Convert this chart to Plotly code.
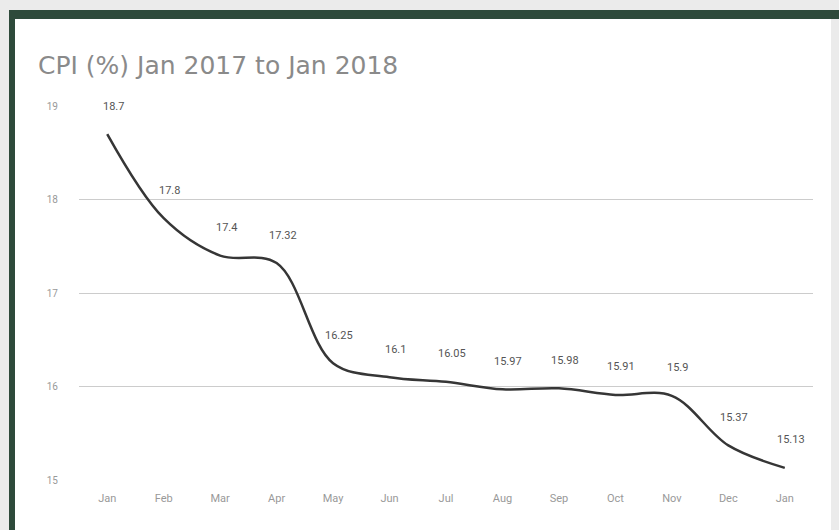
import plotly.graph_objects as go

months = ["Jan", "Feb", "Mar", "Apr", "May", "Jun", "Jul", "Aug", "Sep", "Oct", "Nov", "Dec", "Jan"]
cpi = [18.7, 17.8, 17.4, 17.32, 16.25, 16.1, 16.05, 15.97, 15.98, 15.91, 15.9, 15.37, 15.13]
cpi_labels = ["18.7", "17.8", "17.4", "17.32", "16.25", "16.1", "16.05", "15.97", "15.98", "15.91", "15.9", "15.37", "15.13"]
y_ticks = [15, 16, 17, 18, 19]

W, H = 839, 530
ML, MR, MT, MB = 79, 26, 106, 50
PW, PH = W - ML - MR, H - MT - MB
FONT = "Roboto, Arial, sans-serif"

def px(x):
    return (x - ML) / PW

def py(y):
    return (H - MB - y) / PH

xs = list(range(len(months)))

fig = go.Figure()
fig.add_trace(go.Scatter(
    x=xs, y=cpi, mode="lines",
    line=dict(color="#363636", width=2.5, shape="spline", smoothing=1.0),
    hoverinfo="skip", showlegend=False,
))

for x, y, t in zip(xs, cpi, cpi_labels):
    fig.add_annotation(x=x, y=y, text=t, showarrow=False,
                       xshift=6, yshift=28,
                       font=dict(family=FONT, size=11, color="#555555"))

shapes = [
    dict(type="rect", xref="paper", yref="paper", x0=px(9), x1=px(845), y0=py(19), y1=py(10),
         fillcolor="#2e4a3b", line=dict(width=0), layer="below"),
    dict(type="rect", xref="paper", yref="paper", x0=px(9), x1=px(15), y0=py(540), y1=py(10),
         fillcolor="#2e4a3b", line=dict(width=0), layer="below"),
    dict(type="rect", xref="paper", yref="paper", x0=px(15), x1=px(831), y0=py(540), y1=py(19),
         fillcolor="#ffffff", line=dict(width=0), layer="below"),
]

fig.update_layout(
    width=W, height=H,
    margin=dict(l=ML, r=MR, t=MT, b=MB),
    paper_bgcolor="#ebebeb",
    plot_bgcolor="rgba(0,0,0,0)",
    shapes=shapes,
    title=dict(text="CPI (%) Jan 2017 to Jan 2018", x=38 / W, xanchor="left", xref="container",
               y=1 - 65 / H, yanchor="middle", yref="container",
               font=dict(family="DejaVu Sans, sans-serif", size=25, color="#8a8a8a")),
    xaxis=dict(tickvals=xs, ticktext=months, range=[-0.5, len(months) - 0.5],
               showgrid=False, zeroline=False, showline=False, ticks="", ticklabelstandoff=10,
               tickfont=dict(family=FONT, size=11, color="#999999")),
    yaxis=dict(range=[15, 19], tickvals=y_ticks, ticktext=[str(v) for v in y_ticks],
               showgrid=True, gridcolor="#cccccc", gridwidth=1, zeroline=False, showline=False,
               ticks="", ticklabelstandoff=20,
               tickfont=dict(family=FONT, size=10, color="#999999")),
)

fig.write_html("out.html", config={"displayModeBar": False},
               post_script="document.body.style.margin='0';document.body.style.background='#ebebeb';document.body.style.overflow='hidden';")
